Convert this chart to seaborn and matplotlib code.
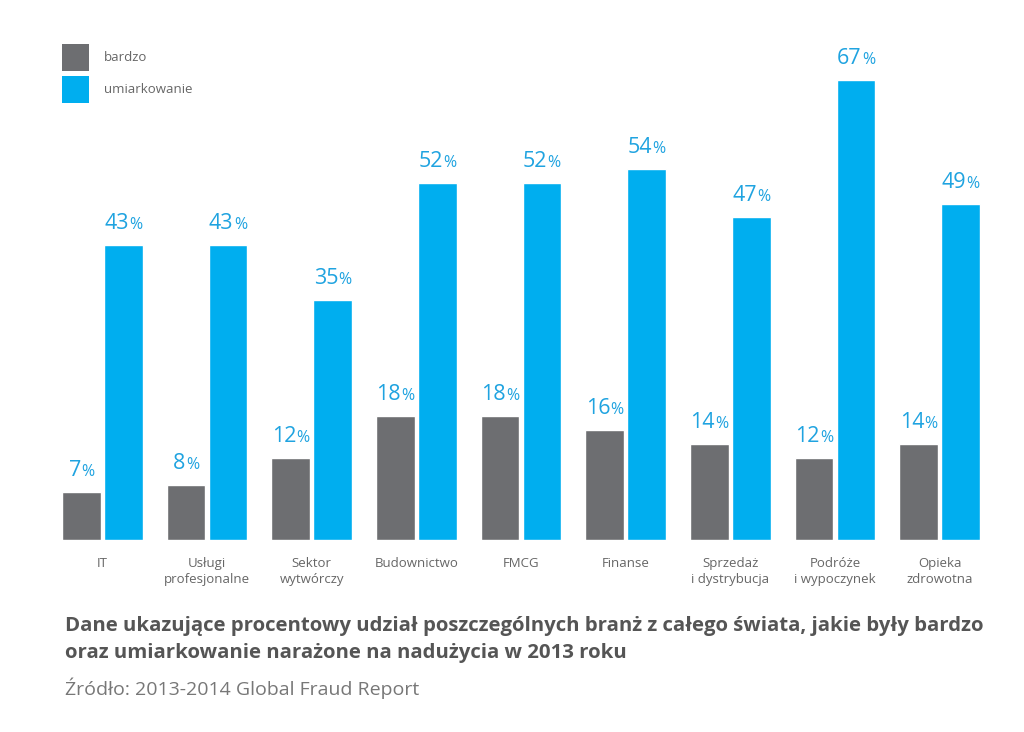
import matplotlib
matplotlib.use('Agg')
from matplotlib import pyplot as plt
import matplotlib.patches as mpatches
import seaborn as sns
import pandas as pd

####### DATA #######
branze = ['IT', 'Usługi\nprofesjonalne', 'Sektor\nwytwórczy', 'Budownictwo', 'FMCG',
          'Finanse', 'Sprzedaż\ni dystrybucja', 'Podróże\ni wypoczynek', 'Opieka\nzdrowotna']
bardzo = [7, 8, 12, 18, 18, 16, 14, 12, 14]
umiarkowanie = [43, 43, 35, 52, 52, 54, 47, 67, 49]
series = ['bardzo', 'umiarkowanie']
##### END DATA #####

GREY = '#6d6e71'
BLUE = '#00aeef'
LABEL_BLUE = '#1fa3e0'
TEXT_GREY = '#666666'

sns.set_style('white')
plt.rcParams['font.family'] = ['Open Sans', 'DejaVu Sans']

df = pd.DataFrame({
    'branza': branze * 2,
    'wartosc': bardzo + umiarkowanie,
    'seria': [series[0]] * len(branze) + [series[1]] * len(branze),
})

fig = plt.figure(figsize=(10.24, 7.32), dpi=100)
ax = fig.add_axes([50 / 1024, 192 / 732, 942 / 1024, 508 / 732])

sns.barplot(data=df, x='branza', y='wartosc', hue='seria', order=branze, hue_order=series,
            palette={'bardzo': GREY, 'umiarkowanie': BLUE}, width=0.8, gap=0.08,
            saturation=1, ax=ax, errorbar=None, legend=False)

ax.set_xlim(-0.5, len(branze) - 0.5)
ax.set_ylim(0, 74)
ax.set_xlabel('')
ax.set_ylabel('')
ax.set_yticks([])
sns.despine(ax=ax, left=True, bottom=True)
ax.tick_params(axis='x', length=0, pad=12, labelsize=9.5, labelcolor=TEXT_GREY)
for t in ax.get_xticklabels():
    t.set_linespacing(1.35)
    t.set_verticalalignment('top')

# value labels: big number + small percent sign, centred together over bar
LIFT = 11.5
fig.canvas.draw()
renderer = fig.canvas.get_renderer()
for cont in ax.containers:
    for bar in cont:
        h = bar.get_height()
        cx = bar.get_x() + bar.get_width() / 2
        num = ax.annotate(f'{int(round(h))}', (cx, h), xytext=(0, LIFT), textcoords='offset points',
                          ha='left', va='baseline', fontsize=15.5, color=LABEL_BLUE)
        pct = ax.annotate('%', (cx, h), xytext=(0, LIFT), textcoords='offset points',
                          ha='left', va='baseline', fontsize=11.5, color=LABEL_BLUE)
        wn = num.get_window_extent(renderer).width * 72 / fig.dpi
        wp = pct.get_window_extent(renderer).width * 72 / fig.dpi
        total = wn + wp + 0.2
        num.xyann = (-total / 2, LIFT)
        pct.xyann = (-total / 2 + wn + 0.2, LIFT)

# legend
handles = [mpatches.Patch(facecolor=GREY, edgecolor='none'),
           mpatches.Patch(facecolor=BLUE, edgecolor='none')]
ax.legend(handles, series, loc='upper left', bbox_to_anchor=(62 / 1024, 1 - 44 / 732),
          bbox_transform=fig.transFigure, frameon=False, fontsize=9.5,
          handlelength=2.05, handleheight=2.77, labelspacing=0.38, handletextpad=1.1,
          labelcolor=TEXT_GREY, borderaxespad=0, borderpad=0)

fig.text(65 / 1024, 1 - 631 / 732,
         'Dane ukazujące procentowy udział poszczególnych branż z całego świata, jakie były bardzo',
         fontsize=14.7, fontweight='bold', color='#555555', va='baseline')
fig.text(65 / 1024, 1 - 658 / 732,
         'oraz umiarkowanie narażone na nadużycia w 2013 roku',
         fontsize=14.7, fontweight='bold', color='#555555', va='baseline')
fig.text(65 / 1024, 1 - 695 / 732, 'Źródło: 2013-2014 Global Fraud Report',
         fontsize=14, color='#777777', va='baseline')

fig.savefig('out.png', dpi=100)
